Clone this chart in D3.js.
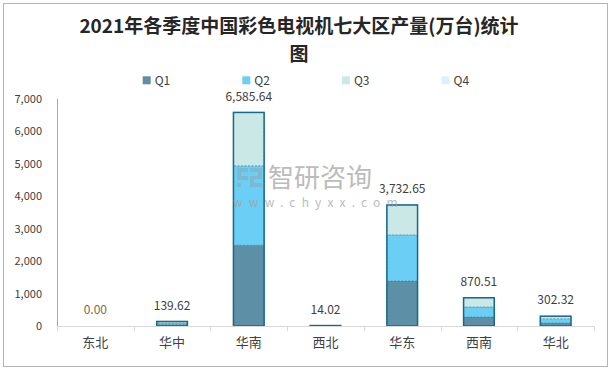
<!DOCTYPE html>
<html><head><meta charset="utf-8">
<script src="https://cdn.jsdelivr.net/npm/d3@7"></script>
<style>
html,body{margin:0;padding:0;background:#fff;}
svg{display:block;}
text{font-family:"Noto Sans CJK SC","Noto Sans",sans-serif;}
</style></head>
<body>
<svg id="chart" width="612" height="369"></svg>
<script>
const titleLines = ["2021年各季度中国彩色电视机七大区产量(万台)统计", "图"];
const categories = ["东北", "华中", "华南", "西北", "华东", "西南", "华北"];
const seriesNames = ["Q1", "Q2", "Q3", "Q4"];
const q1 = [0, 45, 2492, 5, 1390, 278, 93];
const q2 = [0, 48, 2449, 5, 1420, 309, 132];
const q3 = [0, 46.62, 1644.64, 4.02, 922.65, 283.51, 77.32];
const q4 = [0, 0, 0, 0, 0, 0, 0];
const totals = [0.00, 139.62, 6585.64, 14.02, 3732.65, 870.51, 302.32];
const yTicks = [0, 1000, 2000, 3000, 4000, 5000, 6000, 7000];
const colors = ["#5d8fa6", "#6bcff5", "#c9e8e6", "#dcf1fb"];

const svg = d3.select("#chart");

// outer border
svg.append("rect").attr("x", 3.5).attr("y", 3.5).attr("width", 604).attr("height", 363)
  .attr("fill", "#fff").attr("stroke", "#b4b4b4").attr("stroke-width", 1);

// title
svg.append("g").selectAll("text").data(titleLines).join("text")
  .attr("x", 299).attr("y", (d, i) => 32.5 + i * 28)
  .attr("text-anchor", "middle")
  .attr("font-size", 19).attr("font-weight", "bold").attr("fill", "#262626")
  .style("font-family", "'Noto Sans CJK SC', serif")
  .text(d => d);

// legend
const lg = svg.append("g").selectAll("g").data(seriesNames).join("g")
  .attr("transform", (d, i) => `translate(${142.7 + i * 99.6},76.3)`);
lg.append("rect").attr("width", 8).attr("height", 8).attr("fill", (d, i) => colors[i]);
lg.append("text").attr("x", 12).attr("y", 4).attr("dy", "0.35em")
  .attr("font-size", 12).attr("fill", "#404040").text(d => d);

const x = d3.scaleBand().domain(categories).range([57, 594]).paddingInner(0.6).paddingOuter(0.3);
const y = d3.scaleLinear().domain([0, 7000]).range([326, 99]);

// stacked bars
const rows = categories.map((c, i) => ({cat: c, Q1: q1[i], Q2: q2[i], Q3: q3[i], Q4: q4[i], total: totals[i]}));
const stacked = d3.stack().keys(seriesNames)(rows);
const bars = svg.append("g");
stacked.forEach((s, si) => {
  bars.append("g").selectAll("rect").data(s).join("rect")
    .attr("x", d => x(d.data.cat))
    .attr("width", x.bandwidth())
    .attr("y", d => y(d[1]))
    .attr("height", d => Math.max(0, y(d[0]) - y(d[1])))
    .attr("fill", colors[si])
    .attr("stroke", "#3f7e98").attr("stroke-width", 0.6).attr("stroke-dasharray", "2,1.5");
});
// outline around full stack
bars.append("g").selectAll("rect").data(rows.filter(d => d.total > 0)).join("rect")
  .attr("x", d => x(d.cat))
  .attr("width", x.bandwidth())
  .attr("y", d => y(d.total))
  .attr("height", d => y(0) - y(d.total))
  .attr("fill", "none").attr("stroke", "#17698c").attr("stroke-width", 1.5);

// watermark (semi-transparent, above bars)
const wm = svg.append("g").attr("opacity", 0.7);
const logo = wm.append("g").attr("fill", "#8aaec2");
logo.append("path").attr("d", "M237,168h11v4h-7v4h7v4h-11z");
logo.append("path").attr("d", "M250,168h12v11h-8v4h8v4h-12v-11h8v-4h-8z");
logo.append("rect").attr("x", 237).attr("y", 183).attr("width", 4).attr("height", 4);
wm.append("text").attr("x", 268).attr("y", 178).attr("dy", "0.36em")
  .attr("font-size", 26).attr("fill", "#a0a0a0").text("智研咨询");
wm.append("text").attr("x", 233).attr("y", 203).attr("dy", "0.35em")
  .attr("font-size", 12).attr("fill", "#a0a0a0").attr("letter-spacing", "6.2px")
  .text("www.chyxx.com");

// x axis line and ticks at band boundaries
const xa = svg.append("g");
xa.append("line").attr("x1", x.range()[0]).attr("x2", x.range()[1])
  .attr("y1", y(0) + 0.5).attr("y2", y(0) + 0.5).attr("stroke", "#d9d9d9").attr("stroke-width", 1);
const bounds = d3.range(categories.length + 1).map(i => x.range()[0] + i * x.step());
xa.selectAll("line.tk").data(bounds).join("line").attr("class", "tk")
  .attr("x1", d => Math.round(d) + 0.5).attr("x2", d => Math.round(d) + 0.5)
  .attr("y1", y(0)).attr("y2", y(0) + 5).attr("stroke", "#d9d9d9");

const xAxis = svg.append("g").attr("transform", `translate(0,${y(0)})`)
  .call(d3.axisBottom(x).tickSize(0).tickPadding(12));
xAxis.select(".domain").remove();
xAxis.selectAll("text").attr("font-size", 13).attr("fill", "#404040")
  .style("font-family", "'Noto Sans CJK SC',sans-serif");

// y axis
const yAxis = svg.append("g").attr("transform", "translate(57,0)")
  .call(d3.axisLeft(y).tickValues(yTicks).tickFormat(d3.format(",")).tickSize(0).tickPadding(15));
yAxis.select(".domain").attr("stroke", "#a6a6a6").attr("d", `M0.5,${y(7000)}V${y(0)}`);
yAxis.selectAll("text").attr("font-size", 11).attr("fill", "#404040")
  .style("font-family", "'Noto Sans CJK SC',sans-serif");

// total labels
svg.append("g").selectAll("text").data(rows).join("text")
  .attr("x", d => x(d.cat) + x.bandwidth() / 2)
  .attr("y", d => y(d.total) - 16)
  .attr("dy", "0.35em")
  .attr("text-anchor", "middle")
  .attr("font-size", 12)
  .attr("fill", d => d.total === 0 ? "#7f6a45" : "#404040")
  .text(d => d3.format(",.2f")(d.total));
</script>
</body></html>
